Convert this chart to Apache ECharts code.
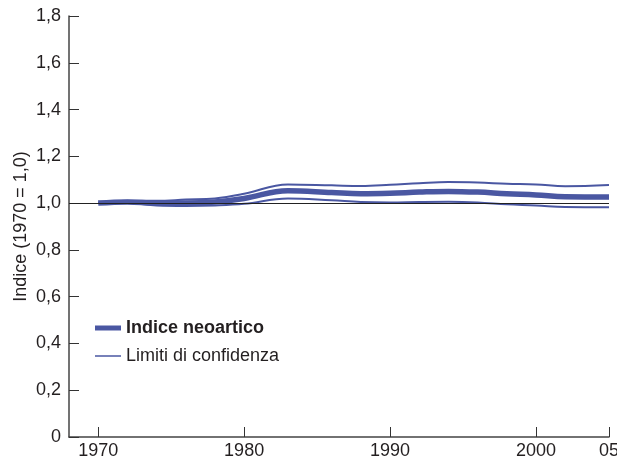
<!DOCTYPE html>
<html>
<head>
<meta charset="utf-8">
<script src="https://cdn.jsdelivr.net/npm/echarts@6/dist/echarts.min.js"></script>
<style>
  html, body { margin: 0; padding: 0; background: #fff; }
  #chart { width: 617px; height: 457px; }
</style>
</head>
<body>
<div id="chart"></div>
<script>
// anni e valori
var years = [1970, 1972, 1974, 1976, 1978, 1980, 1983, 1986, 1988, 1990, 1992, 1994, 1996, 1998, 2000, 2002, 2005];
var indice = [1.0, 1.005, 1.0, 1.0, 1.005, 1.02, 1.053, 1.045, 1.04, 1.042, 1.047, 1.05, 1.047, 1.04, 1.035, 1.027, 1.026];
var limiteSup = [1.0, 1.01, 1.01, 1.015, 1.02, 1.04, 1.08, 1.076, 1.073, 1.078, 1.085, 1.09, 1.088, 1.083, 1.08, 1.072, 1.077];
var limiteInf = [1.0, 1.0, 0.99, 0.988, 0.99, 0.997, 1.02, 1.012, 1.005, 1.003, 1.005, 1.006, 1.003, 0.995, 0.99, 0.983, 0.982];
var xTicks = [1970, 1980, 1990, 2000, 2005];

var blue = '#4a57a2';
var textColor = '#231f20';
var font = 'Liberation Sans, Arial, sans-serif';

function pairs(vals) {
  return years.map(function (y, i) { return [y, vals[i]]; });
}

var chart = echarts.init(document.getElementById('chart'));
chart.setOption({
  animation: false,
  textStyle: { fontFamily: font },
  grid: { left: 69, right: 8, top: 16, bottom: 20, outerBoundsMode: 'none', containLabel: false },
  legend: [{
    left: 95, top: 319, padding: 0,
    itemWidth: 26, itemHeight: 5,
    data: [{ name: 'Indice neoartico', icon: 'rect', textStyle: { fontWeight: 'bold' } }],
    textStyle: { fontSize: 18, color: textColor, fontFamily: font }
  }, {
    left: 95, top: 347, padding: 0,
    itemWidth: 26, itemHeight: 1.5,
    data: [{ name: 'Limiti di confidenza', icon: 'rect' }],
    textStyle: { fontSize: 18, color: textColor, fontFamily: font }
  }],
  xAxis: {
    type: 'value',
    min: 1968,
    max: 2005,
    splitLine: { show: false },
    axisLine: { lineStyle: { color: '#444', width: 1.5 } },
    axisTick: { inside: true, length: 10, customValues: xTicks, lineStyle: { color: '#333' } },
    axisLabel: {
      customValues: xTicks,
      margin: 5,
      fontSize: 18,
      color: textColor,
      formatter: function (v) { return v === 2005 ? '05' : String(v); }
    }
  },
  yAxis: {
    type: 'value',
    min: 0,
    max: 1.8,
    interval: 0.2,
    name: 'Indice (1970 = 1,0)',
    nameLocation: 'middle',
    nameGap: 39,
    nameMoveOverlap: false,
    nameTextStyle: { fontSize: 18, color: textColor },
    splitLine: { show: false },
    axisLine: { show: true, lineStyle: { color: '#444', width: 1.5 } },
    axisTick: { show: true, inside: true, length: 10, lineStyle: { color: '#333' } },
    axisLabel: {
      margin: 8,
      fontSize: 18,
      color: textColor,
      formatter: function (v) { return v === 0 ? '0' : v.toFixed(1).replace('.', ','); }
    }
  },
  series: [{
    name: 'Limiti di confidenza',
    type: 'line',
    symbol: 'none',
    smooth: 0.4,
    data: pairs(limiteSup),
    lineStyle: { color: blue, width: 2 },
    itemStyle: { color: blue },
    markLine: {
      silent: true,
      symbol: 'none',
      label: { show: false },
      lineStyle: { color: '#222', width: 1.2, type: 'solid' },
      data: [{ yAxis: 1 }]
    }
  }, {
    name: 'Limiti di confidenza',
    type: 'line',
    symbol: 'none',
    smooth: 0.4,
    data: pairs(limiteInf),
    lineStyle: { color: blue, width: 2 },
    itemStyle: { color: blue }
  }, {
    name: 'Indice neoartico',
    type: 'line',
    symbol: 'none',
    smooth: 0.4,
    data: pairs(indice),
    lineStyle: { color: blue, width: 5.5 },
    itemStyle: { color: blue }
  }]
});
</script>
</body>
</html>
